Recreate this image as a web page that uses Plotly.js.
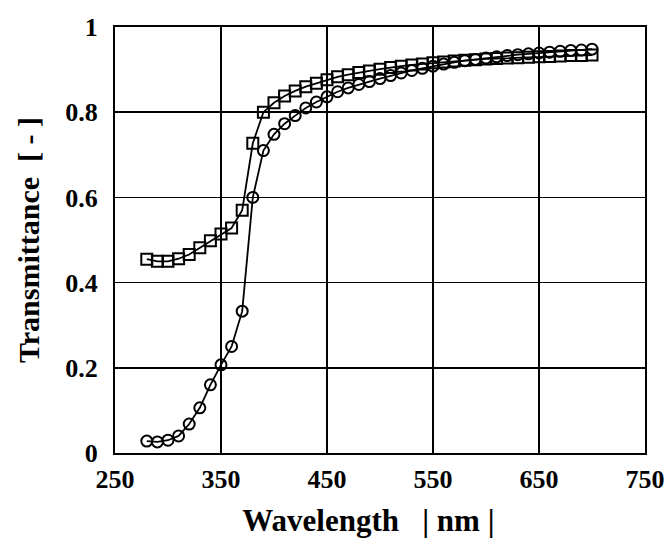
<!DOCTYPE html>
<html>
<head>
<meta charset="utf-8">
<script src="https://cdn.plot.ly/plotly-3.0.1.min.js"></script>
<style>html,body{margin:0;padding:0;background:#fff;}#chart{width:669px;height:538px;}</style>
</head>
<body>
<div id="chart"></div>
<script>
var wavelength = [280,290,300,310,320,330,340,350,360,370,380,390,400,410,420,430,440,450,460,470,480,490,500,510,520,530,540,550,560,570,580,590,600,610,620,630,640,650,660,670,680,690,700];
var squareSeries = [0.455,0.450,0.450,0.456,0.466,0.482,0.498,0.514,0.528,0.570,0.727,0.800,0.822,0.838,0.850,0.860,0.868,0.876,0.883,0.888,0.893,0.897,0.901,0.905,0.908,0.911,0.913,0.916,0.918,0.920,0.922,0.923,0.925,0.926,0.927,0.928,0.929,0.930,0.931,0.932,0.933,0.933,0.934];
var circleSeries = [0.028,0.026,0.030,0.040,0.068,0.106,0.160,0.207,0.250,0.333,0.600,0.710,0.748,0.773,0.792,0.810,0.824,0.836,0.848,0.857,0.865,0.872,0.879,0.886,0.892,0.898,0.903,0.908,0.913,0.917,0.921,0.924,0.927,0.930,0.933,0.935,0.937,0.939,0.941,0.943,0.945,0.946,0.948];
var xTicks = [250,350,450,550,650,750];
var yTicks = [0,0.2,0.4,0.6,0.8,1];
var yTickText = ['0','0.2','0.4','0.6','0.8','1'];

var font = 'Liberation Serif, Times New Roman, serif';
var traces = [
  {x: wavelength, y: circleSeries, mode: 'lines+markers', type: 'scatter', name: 'circle',
   line: {color: '#000', width: 1.8},
   marker: {symbol: 'circle-open', size: 11, color: '#000', line: {width: 2, color: '#000'}}},
  {x: wavelength, y: squareSeries, mode: 'lines+markers', type: 'scatter', name: 'square',
   line: {color: '#000', width: 1.8},
   marker: {symbol: 'square-open', size: 11, color: '#000', line: {width: 2, color: '#000'}}}
];
var layout = {
  width: 669, height: 538,
  margin: {l: 115, r: 24, t: 27, b: 85},
  paper_bgcolor: '#fff', plot_bgcolor: '#fff',
  showlegend: false,
  font: {family: font, color: '#000'},
  xaxis: {
    range: [250, 750], tickvals: xTicks, ticktext: xTicks.map(String),
    showgrid: true, gridcolor: '#000', gridwidth: 1.6,
    showline: true, linecolor: '#000', linewidth: 2, mirror: true,
    ticks: '', zeroline: false, ticklabelstandoff: 2,
    tickfont: {family: font, size: 26, color: '#000', weight: 'bold'},
    title: {text: '<b>Wavelength&nbsp;&nbsp;&nbsp;| nm |&nbsp;&nbsp;&nbsp;</b>', font: {family: font, size: 31, color: '#000'}, standoff: 18}
  },
  yaxis: {
    range: [0, 1], tickvals: yTicks, ticktext: yTickText,
    showgrid: true, gridcolor: '#000', gridwidth: 1.6,
    showline: true, linecolor: '#000', linewidth: 2, mirror: true,
    ticks: '', zeroline: false, ticklabelstandoff: 10,
    tickfont: {family: font, size: 26, color: '#000', weight: 'bold'},
    title: {text: '<b>Transmittance  [ - ]</b>', font: {family: font, size: 30, color: '#000'}, standoff: 17}
  }
};
Plotly.newPlot('chart', traces, layout, {displayModeBar: false, staticPlot: true});
</script>
</body>
</html>
